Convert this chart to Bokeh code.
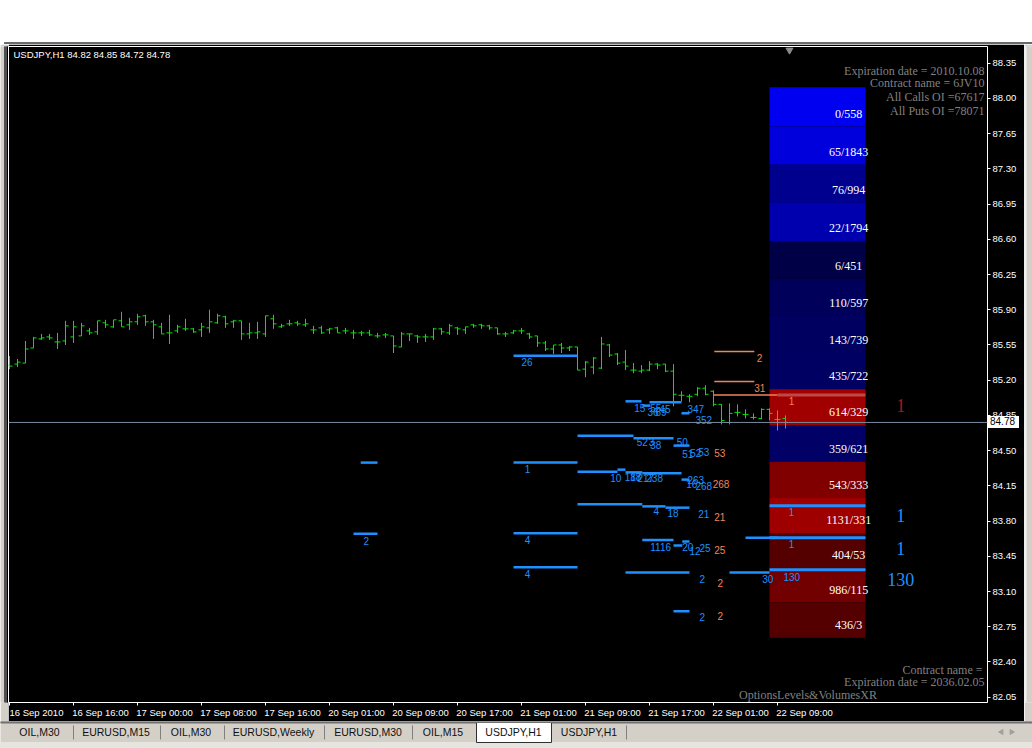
from bokeh.plotting import figure
from bokeh.models import Range1d, FixedTicker, Label, LinearAxis, Span, PrintfTickFormatter, Div
from bokeh.layouts import column, row
from bokeh.core.properties import value
from bokeh.embed import file_html
from bokeh.resources import INLINE

# ---------------- data ----------------
symbol_title = "USDJPY,H1  84.82 84.85 84.72 84.78"

opens = [85.35, 85.36, 85.37, 85.52, 85.61, 85.63, 85.58, 85.59, 85.63, 85.64,
         85.69, 85.68, 85.77, 85.73, 85.79, 85.75, 85.78, 85.84, 85.78, 85.73,
         85.67, 85.69, 85.71, 85.71, 85.70, 85.72, 85.77, 85.83, 85.78, 85.79,
         85.66, 85.67, 85.66, 85.81, 85.73, 85.76, 85.77, 85.75, 85.70, 85.72,
         85.70, 85.72, 85.69, 85.67, 85.67, 85.67, 85.64, 85.65, 85.64, 85.53,
         85.66, 85.64, 85.63, 85.63, 85.71, 85.67, 85.72, 85.70, 85.75, 85.75,
         85.74, 85.72, 85.66, 85.67, 85.69, 85.66, 85.64, 85.57, 85.51, 85.55,
         85.52, 85.53, 85.31, 85.33, 85.32, 85.55, 85.46, 85.38, 85.30, 85.29,
         85.30, 85.36, 85.36, 85.29, 85.05, 85.04, 85.06, 85.12, 85.09, 84.96,
         84.78, 84.88, 84.86, 84.83, 84.82, 84.91, 84.81, 84.82]
highs = [85.44, 85.41, 85.59, 85.63, 85.66, 85.66, 85.67, 85.79, 85.79, 85.77,
         85.72, 85.79, 85.80, 85.80, 85.88, 85.82, 85.86, 85.85, 85.80, 85.77,
         85.85, 85.75, 85.81, 85.72, 85.77, 85.90, 85.86, 85.84, 85.80, 85.79,
         85.77, 85.78, 85.84, 85.85, 85.76, 85.80, 85.79, 85.81, 85.74, 85.74,
         85.72, 85.73, 85.72, 85.70, 85.69, 85.70, 85.67, 85.67, 85.64, 85.68,
         85.66, 85.65, 85.66, 85.72, 85.72, 85.76, 85.73, 85.73, 85.76, 85.76,
         85.75, 85.72, 85.68, 85.70, 85.72, 85.67, 85.64, 85.59, 85.55, 85.57,
         85.54, 85.53, 85.39, 85.43, 85.63, 85.56, 85.47, 85.50, 85.37, 85.35,
         85.39, 85.37, 85.36, 85.36, 85.09, 85.06, 85.13, 85.15, 85.10, 84.96,
         84.97, 84.96, 84.91, 84.87, 84.92, 84.92, 84.90, 84.85]
lows = [85.31, 85.33, 85.37, 85.52, 85.60, 85.60, 85.51, 85.55, 85.57, 85.64,
        85.65, 85.65, 85.72, 85.72, 85.73, 85.70, 85.75, 85.74, 85.61, 85.66,
        85.56, 85.67, 85.69, 85.67, 85.63, 85.67, 85.76, 85.72, 85.72, 85.60,
        85.61, 85.61, 85.63, 85.71, 85.72, 85.74, 85.74, 85.73, 85.66, 85.66,
        85.66, 85.67, 85.66, 85.61, 85.64, 85.64, 85.62, 85.62, 85.47, 85.53,
        85.59, 85.57, 85.58, 85.60, 85.65, 85.65, 85.65, 85.66, 85.72, 85.71,
        85.70, 85.65, 85.63, 85.66, 85.66, 85.61, 85.53, 85.49, 85.46, 85.47,
        85.49, 85.30, 85.23, 85.26, 85.31, 85.43, 85.35, 85.30, 85.27, 85.27,
        85.29, 85.31, 85.28, 84.94, 84.99, 84.98, 85.04, 85.05, 84.94, 84.76,
        84.76, 84.84, 84.82, 84.81, 84.81, 84.80, 84.70, 84.72]
closes = [85.34, 85.38, 85.51, 85.62, 85.62, 85.62, 85.58, 85.74, 85.73, 85.74,
          85.67, 85.79, 85.75, 85.80, 85.73, 85.78, 85.83, 85.78, 85.75, 85.66,
          85.67, 85.73, 85.71, 85.68, 85.73, 85.78, 85.84, 85.76, 85.79, 85.66,
          85.67, 85.68, 85.84, 85.76, 85.74, 85.76, 85.76, 85.76, 85.70, 85.67,
          85.71, 85.67, 85.69, 85.67, 85.67, 85.65, 85.64, 85.65, 85.54, 85.66,
          85.66, 85.63, 85.63, 85.71, 85.68, 85.74, 85.71, 85.73, 85.74, 85.74,
          85.72, 85.66, 85.66, 85.69, 85.69, 85.63, 85.57, 85.51, 85.55, 85.52,
          85.53, 85.30, 85.38, 85.42, 85.56, 85.45, 85.37, 85.34, 85.30, 85.30,
          85.36, 85.35, 85.29, 85.06, 85.05, 85.04, 85.12, 85.06, 84.96, 84.80,
          84.87, 84.88, 84.86, 84.83, 84.91, 84.87, 84.81, 84.78]

x_tick_bars = [0, 8, 16, 24, 32, 40, 48, 56, 64, 72, 80, 88, 96]
x_tick_labels = ["16 Sep 2010", "16 Sep 16:00", "17 Sep 00:00", "17 Sep 08:00",
                 "17 Sep 16:00", "20 Sep 01:00", "20 Sep 09:00", "20 Sep 17:00",
                 "21 Sep 01:00", "21 Sep 09:00", "21 Sep 17:00", "22 Sep 01:00",
                 "22 Sep 09:00"]
y_ticks = [88.35, 88.00, 87.65, 87.30, 86.95, 86.60, 86.25, 85.90, 85.55, 85.20,
           84.85, 84.50, 84.15, 83.80, 83.45, 83.10, 82.75, 82.40, 82.05]

# option strike levels (price boundaries), top to bottom
band_edges = [88.11, 87.72, 87.34, 86.96, 86.58, 86.21, 85.84, 85.47, 85.11,
              84.75, 84.39, 84.03, 83.68, 83.33, 82.99, 82.64]
band_calls = [0, 65, 76, 22, 6, 110, 143, 435, 614, 359, 543, 1131, 404, 986, 436]
band_puts = [558, 1843, 994, 1794, 451, 597, 739, 722, 329, 621, 333, 331, 53, 115, 3]
band_colors = ["#0000F0", "#0000DC", "#00008E", "#0000AE", "#000046", "#00005A",
               "#000060", "#000062", "#A00000", "#000066", "#800000", "#9E0000",
               "#540000", "#720000", "#540000"]

# blue volume lines: start bar, end bar, price
blue_x0 = [63, 43.9, 43, 77, 80, 79.1, 84, 71, 78, 83, 63, 71, 76, 77, 79.1, 84,
           71, 79.1, 82, 63, 79.1, 84.1, 83, 63, 77, 83, 92, 90]
blue_x1 = [71, 46, 46, 79, 84, 80.1, 85, 78, 83, 85, 71, 76, 77, 79.1, 84, 85,
           79.1, 82, 85, 71, 83, 85, 84.1, 71, 85, 85, 96, 95]
blue_y = [85.444, 84.381, 83.675, 84.990, 84.980, 84.947, 84.871, 84.649, 84.622,
          84.550, 84.381, 84.291, 84.311, 84.284, 84.274, 84.212, 83.966, 83.946,
          83.933, 83.678, 83.612, 83.598, 83.556, 83.340, 83.290, 82.903, 83.635,
          83.290]
cur_blue_y = [83.953, 83.635, 83.317]

orange_x0 = [88.1, 88.1, 88]
orange_x1 = [93.1, 93.1, 96]
orange_y = [85.484, 85.186, 85.054]
cur_red_y = [85.054]

blue_txt = ["26", "15", "55", "45", "36", "69", "347", "352", "52", "3", "38", "50",
            "51", "52", "53", "1", "10", "188", "17", "217", "238", "263", "16",
            "268", "4", "18", "21", "4", "1116", "20", "12", "25", "4", "2", "30",
            "2", "2", "1", "1", "130"]
blue_tx = [64.0, 78.1, 80.1, 81.25, 79.75, 80.75, 84.75, 85.75, 78.4, 79.9, 80.1,
           83.4, 84.1, 85.1, 86.1, 64.4, 75.1, 76.9, 77.6, 78.5, 79.6, 84.75, 84.6,
           85.75, 80.5, 82.25, 86.1, 64.4, 80.1, 84.1, 85.0, 86.25, 64.4, 86.25,
           94.1, 86.25, 44.25, 97.4, 97.4, 96.75]
blue_ty = [85.378, 84.921, 84.928, 84.918, 84.881, 84.881, 84.918, 84.808, 84.583,
           84.583, 84.560, 84.590, 84.470, 84.480, 84.490, 84.314, 84.232, 84.242,
           84.242, 84.232, 84.232, 84.212, 84.172, 84.145, 83.897, 83.877, 83.867,
           83.612, 83.539, 83.539, 83.506, 83.529, 83.274, 83.225, 83.225, 82.843,
           83.605, 83.894, 83.576, 83.248]

orange_txt = ["53", "268", "21", "25", "2", "2", "2", "31", "1"]
orange_tx = [88.1, 87.9, 88.1, 88.1, 88.5, 88.5, 93.4, 93.1, 97.4]
orange_ty = [84.480, 84.172, 83.837, 83.513, 83.181, 82.860, 85.422, 85.119, 84.997]

big_txt = ["1", "1", "1", "130"]
big_y = [84.947, 83.854, 83.529, 83.218]
big_colors = ["#A81818", "#1E90FF", "#1E90FF", "#1E90FF"]

info_top = ["Expiration date = 2010.10.08", "Contract name = 6JV10",
            "All Calls OI =67617", "All Puts OI =78071"]
info_bottom = ["Contract name =", "Expiration date = 2036.02.05"]
indicator_name = "OptionsLevels&VolumesXR"

tab_names = ["OIL,M30", "EURUSD,M15", "OIL,M30", "EURUSD,Weekly", "EURUSD,M30",
             "OIL,M15", "USDJPY,H1", "USDJPY,H1"]

# ---------------- styling ----------------
W = 1016
SANS = "Liberation Sans"
SERIF = "Liberation Serif"
GREEN = "#00E800"
BLUE = "#1E90FF"
CORAL = "#F5825A"
GRAY_UI = "#D4D0C8"


def blank(width, height, bg, xr, yr):
    f = figure(width=width, height=height, toolbar_location=None, output_backend="svg",
               x_range=Range1d(*xr), y_range=Range1d(*yr), min_border=0,
               x_axis_location=None, y_axis_location=None,
               background_fill_color=bg, border_fill_color=bg, outline_line_color=None)
    f.grid.visible = False
    return f


# header (white window area, page y 0..44)
header = blank(1032, 44, "white", (0, 1032), (44, 0))
header.quad(left=4, right=1032, top=42, bottom=44, color="#6a6a6a")

# side strips of the chart window
left_strip = blank(8, 677, GRAY_UI, (0, 8), (0, 1))
left_strip.quad(left=4, right=7, top=1, bottom=0, color="#505050")
left_strip.quad(left=7, right=8, top=1, bottom=0, color="black")
right_strip = blank(8, 677, GRAY_UI, (0, 8), (0, 1))
right_strip.quad(left=0, right=1.5, top=1, bottom=0, color="#F2F2F2")

# main chart
n = len(closes)
idx = list(range(n))
p = figure(width=W, height=677, toolbar_location=None, output_backend="svg",
           x_range=Range1d(-0.125, 122.25), y_range=Range1d(81.997, 88.516),
           y_axis_location="right", min_border_left=0, min_border_right=37,
           min_border_top=2, min_border_bottom=19,
           background_fill_color="black", border_fill_color="black",
           outline_line_color="white", outline_line_width=1)
p.grid.visible = False

# y axis
ya = p.yaxis[0]
ya.ticker = FixedTicker(ticks=y_ticks)
ya.formatter = PrintfTickFormatter(format="%.2f")
ya.major_tick_out = 3
ya.major_tick_in = 0
ya.major_tick_line_color = "white"
ya.minor_tick_line_color = None
ya.axis_line_color = None
ya.major_label_text_color = "white"
ya.major_label_text_font = SANS
ya.major_label_text_font_size = "9.5px"
ya.major_label_standoff = 2

# x axis: tick marks only
xa = p.xaxis[0]
xa.ticker = FixedTicker(ticks=x_tick_bars)
xa.major_tick_out = 3
xa.major_tick_in = 0
xa.major_tick_line_color = "white"
xa.minor_tick_line_color = None
xa.axis_line_color = None
xa.major_label_text_font_size = "0px"
xa.major_label_text_color = None
xa.major_label_standoff = 0

# x axis: left-aligned labels (label centres shifted right of each tick)
shift = 3.375
lab_ticks = [t + shift for t in x_tick_bars]
xb = LinearAxis(ticker=FixedTicker(ticks=lab_ticks),
                major_label_overrides={t: s for t, s in zip(lab_ticks, x_tick_labels)},
                major_tick_out=0, major_tick_in=0, minor_tick_line_color=None,
                axis_line_color=None, major_tick_line_color=None,
                major_label_text_color="white", major_label_text_font=SANS,
                major_label_text_font_size="9.5px", major_label_standoff=1)
p.add_layout(xb, "below")

# option bands
band_top = band_edges[:-1]
band_bot = band_edges[1:]
p.quad(left=95, right=107, top=band_top, bottom=band_bot,
       fill_color=band_colors, line_color=None)

# OHLC bars
p.segment(x0=idx, y0=lows, x1=idx, y1=highs, line_color=GREEN, line_width=1)
p.segment(x0=[i - 0.375 for i in idx], y0=opens, x1=idx, y1=opens,
          line_color=GREEN, line_width=1)
p.segment(x0=idx, y0=closes, x1=[i + 0.375 for i in idx], y1=closes,
          line_color=GREEN, line_width=1)

# volume lines
p.segment(x0=blue_x0, y0=blue_y, x1=blue_x1, y1=blue_y, line_color=BLUE, line_width=2.5)
p.segment(x0=[95] * len(cur_blue_y), y0=cur_blue_y, x1=[107] * len(cur_blue_y),
          y1=cur_blue_y, line_color=BLUE, line_width=3)
p.segment(x0=orange_x0, y0=orange_y, x1=orange_x1, y1=orange_y,
          line_color=CORAL, line_width=1.5)
p.segment(x0=[96], y0=cur_red_y, x1=[107], y1=cur_red_y, line_color="#C04848", line_width=3)

# band labels
p.text(x=[104.9] * len(band_calls), y=band_bot,
       text=[f"{c}/{q}" for c, q in zip(band_calls, band_puts)],
       text_align="center", text_baseline="middle", y_offset=-13,
       text_color="white", text_font=value(SERIF), text_font_size="12px")

# small volume labels
p.text(x=blue_tx, y=blue_ty, text=blue_txt, text_align="left", text_baseline="middle",
       text_color=BLUE, text_font=value(SANS), text_font_size="10px")
p.text(x=orange_tx, y=orange_ty, text=orange_txt, text_align="left",
       text_baseline="middle", text_color=CORAL, text_font=value(SANS),
       text_font_size="10px")

# big labels
p.text(x=[111.4] * len(big_txt), y=big_y, text=big_txt, text_align="center",
       text_baseline="middle", text_color=big_colors, text_font=value(SERIF),
       text_font_size="18px")

# chart shift marker
p.scatter(x=[n - 0.5], y=[88.48], marker="inverted_triangle", size=7,
          color="#8a8a8a")

# current price line
p.add_layout(Span(location=closes[-1], dimension="width", line_color="#7A8BA0",
                  line_width=1))

# texts
p.add_layout(Label(x=5, y=648.5, x_units="screen", y_units="screen", text=symbol_title,
                   text_align="left", text_baseline="middle", text_color="white",
                   text_font=SANS, text_font_size="9.5px"))
for s, yy in zip(info_top, [631.3, 619.7, 606.0, 591.3]):
    p.add_layout(Label(x=976, y=yy, x_units="screen", y_units="screen", text=s,
                       text_align="right", text_baseline="middle", text_color="#808080",
                       text_font=SERIF, text_font_size="12px"))
for s, xx, yy in zip(info_bottom, [974, 976], [33, 21]):
    p.add_layout(Label(x=xx, y=yy, x_units="screen", y_units="screen", text=s,
                       text_align="right", text_baseline="middle", text_color="#808080",
                       text_font=SERIF, text_font_size="12px"))
p.add_layout(Label(x=799.5, y=8, x_units="screen", y_units="screen", text=indicator_name,
                   text_align="center", text_baseline="middle", text_color="#808080",
                   text_font=SERIF, text_font_size="12px"))

# current price box on the price scale (HTML overlay)
price_box = Div(text=f"{closes[-1]:.2f}", width=31, height=12, margin=0,
                styles={"position": "fixed", "left": "988px", "top": "416px",
                        "background-color": "white", "color": "black",
                        "font-family": "Liberation Sans", "font-size": "10px",
                        "line-height": "12px", "padding-left": "2px",
                        "z-index": "10", "overflow": "hidden"})

# tab bar (page y 721..748)
tabs = blank(1032, 27, GRAY_UI, (0, 1032), (748, 721))
tab_centers = [39, 115.5, 190.5, 273, 367.5, 442.5, 513, 588.5]
tab_seps = [73, 160, 224, 324, 412, 626]
tabs.quad(left=0, right=1032, top=721, bottom=722.5, color="#707070")
tabs.quad(left=0, right=1032, top=742, bottom=748, color="#E6E4DE")
tabs.quad(left=476, right=551, top=722.5, bottom=742, fill_color="white", line_color=None)
tabs.segment(x0=[476, 551, 476], y0=[722.5, 722.5, 742], x1=[476, 551, 551],
             y1=[742, 742, 742], line_color="#303030", line_width=1)
tabs.segment(x0=tab_seps, y0=725, x1=tab_seps, y1=739, line_color="#808080", line_width=1)
tabs.text(x=tab_centers, y=731.5, text=tab_names, text_align="center",
          text_baseline="middle", text_color="#101010", text_font=value(SANS),
          text_font_size="10.5px")
tabs.scatter(x=[1001, 1011], y=[731.5, 731.5], marker="triangle",
             angle=[1.5708, -1.5708], size=5, color="#A0A0A0")

layout = column(header, row(left_strip, p, right_strip, spacing=0), tabs, price_box,
                spacing=0)
open("out.html", "w").write(file_html(layout, INLINE))
